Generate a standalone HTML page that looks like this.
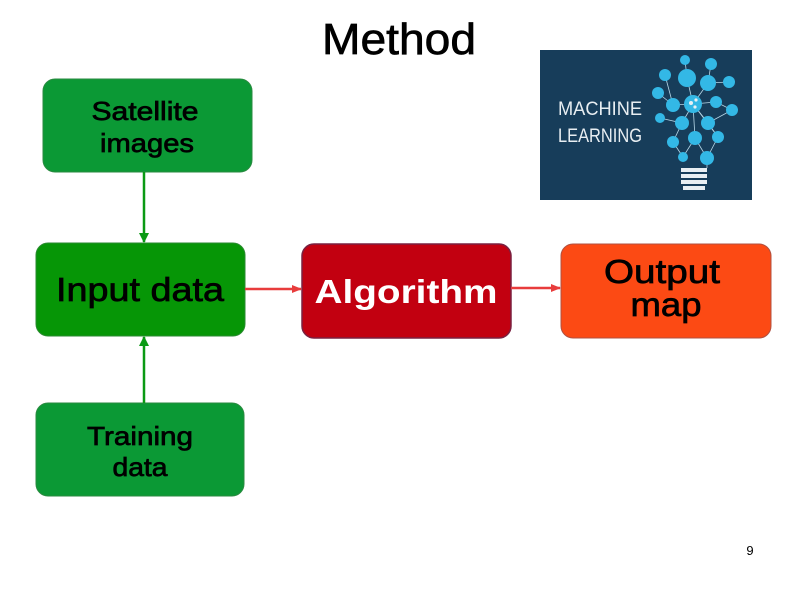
<!DOCTYPE html>
<html><head><meta charset="utf-8"><style>
html,body{margin:0;padding:0;background:#fff;}
svg{display:block;font-family:"Liberation Sans",Arial,sans-serif;}
.t{stroke:#000;stroke-width:0.7;}
</style></head><body>
<svg width="794" height="595" viewBox="0 0 794 595" xmlns="http://www.w3.org/2000/svg">
<defs>
<marker id="ag" markerWidth="10" markerHeight="10" refX="9" refY="5" orient="auto" markerUnits="userSpaceOnUse"><path d="M0,0 L10,5 L0,10 z" fill="#0a9a14"/></marker>
<marker id="ar" markerWidth="10" markerHeight="10" refX="9" refY="5" orient="auto" markerUnits="userSpaceOnUse"><path d="M0,1 L10,5 L0,9 z" fill="#e83c3c"/></marker>
</defs>
<text class="t" x="399" y="54" font-size="44" text-anchor="middle" textLength="154" lengthAdjust="spacingAndGlyphs">Method</text>

<rect x="43" y="79" width="209" height="93" rx="12" fill="#0b9935" stroke="#2a8a40" stroke-width="1"/>
<text class="t" x="145" y="120" font-size="26" text-anchor="middle" textLength="107" lengthAdjust="spacingAndGlyphs">Satellite</text>
<text class="t" x="147" y="152" font-size="26" text-anchor="middle" textLength="94" lengthAdjust="spacingAndGlyphs">images</text>

<rect x="36" y="243" width="209" height="93" rx="12" fill="#069606" stroke="#2a8a30" stroke-width="1"/>
<text class="t" x="140" y="301" font-size="33" text-anchor="middle" textLength="168" lengthAdjust="spacingAndGlyphs">Input data</text>

<rect x="36" y="403" width="208" height="93" rx="12" fill="#0b9935" stroke="#2a8a40" stroke-width="1"/>
<text class="t" x="140" y="445" font-size="26" text-anchor="middle" textLength="106" lengthAdjust="spacingAndGlyphs">Training</text>
<text class="t" x="140" y="476" font-size="26" text-anchor="middle" textLength="55" lengthAdjust="spacingAndGlyphs">data</text>

<rect x="302" y="244" width="209" height="94" rx="12" fill="#c20010" stroke="#7a2040" stroke-width="1.5"/>
<text x="406" y="303" font-size="33" font-weight="bold" fill="#fff" text-anchor="middle" textLength="183" lengthAdjust="spacingAndGlyphs">Algorithm</text>

<rect x="561" y="244" width="210" height="94" rx="12" fill="#fc4a14" stroke="#b05040" stroke-width="1"/>
<text class="t" x="662" y="283" font-size="33" text-anchor="middle" textLength="116" lengthAdjust="spacingAndGlyphs">Output</text>
<text class="t" x="666" y="316" font-size="33" text-anchor="middle" textLength="71" lengthAdjust="spacingAndGlyphs">map</text>

<line x1="144" y1="172" x2="144" y2="242" stroke="#0a9a14" stroke-width="2.5" marker-end="url(#ag)"/>
<line x1="144" y1="403" x2="144" y2="337" stroke="#0a9a14" stroke-width="2.5" marker-end="url(#ag)"/>
<line x1="245" y1="289" x2="301" y2="289" stroke="#e83c3c" stroke-width="2.5" marker-end="url(#ar)"/>
<line x1="511" y1="288" x2="560" y2="288" stroke="#e83c3c" stroke-width="2.5" marker-end="url(#ar)"/>

<rect x="540" y="50" width="212" height="150" fill="#173d5a"/>
<text x="558" y="115" font-size="19" fill="#e8eef2" textLength="84" lengthAdjust="spacingAndGlyphs">MACHINE</text>
<text x="558" y="142" font-size="19" fill="#e8eef2" textLength="84" lengthAdjust="spacingAndGlyphs">LEARNING</text>
<g stroke="#b8d8e8" stroke-width="0.8" fill="none">
<path d="M685,60 L687,78 L693,104 L708,83 L711,64 M665,75 L673,105 L693,104 L716,102 L732,110 M658,93 L673,105 M729,82 L708,83 M660,118 L682,123 L693,104 L708,123 L732,110 M673,142 L682,123 M695,138 L693,104 L718,137 L708,123 M683,157 L695,138 L707,158 L718,137 M673,142 L683,157 M707,158 L707,168"/>
</g>
<g fill="#33b8e6">
<circle cx="685" cy="60" r="5"/><circle cx="711" cy="64" r="6"/><circle cx="665" cy="75" r="6"/>
<circle cx="687" cy="78" r="9"/><circle cx="729" cy="82" r="6"/><circle cx="708" cy="83" r="8"/>
<circle cx="658" cy="93" r="6"/><circle cx="673" cy="105" r="7"/><circle cx="693" cy="104" r="9"/>
<circle cx="716" cy="102" r="6"/><circle cx="732" cy="110" r="6"/><circle cx="660" cy="118" r="5"/>
<circle cx="682" cy="123" r="7"/><circle cx="708" cy="123" r="7"/><circle cx="673" cy="142" r="6"/>
<circle cx="695" cy="138" r="7"/><circle cx="718" cy="137" r="6"/><circle cx="683" cy="157" r="5"/>
<circle cx="707" cy="158" r="7"/>
</g>
<g fill="#e8f0f4"><circle cx="691" cy="103" r="2"/><circle cx="696" cy="100" r="1.6"/><circle cx="695" cy="107" r="1.6"/></g>
<g fill="#e8eef2">
<rect x="681" y="168" width="26" height="4"/><rect x="681" y="174" width="26" height="4"/>
<rect x="681" y="180" width="26" height="4"/><rect x="683" y="186" width="22" height="4"/>
</g>

<text x="750" y="555" font-size="13" text-anchor="middle">9</text>
</svg>
</body></html>
